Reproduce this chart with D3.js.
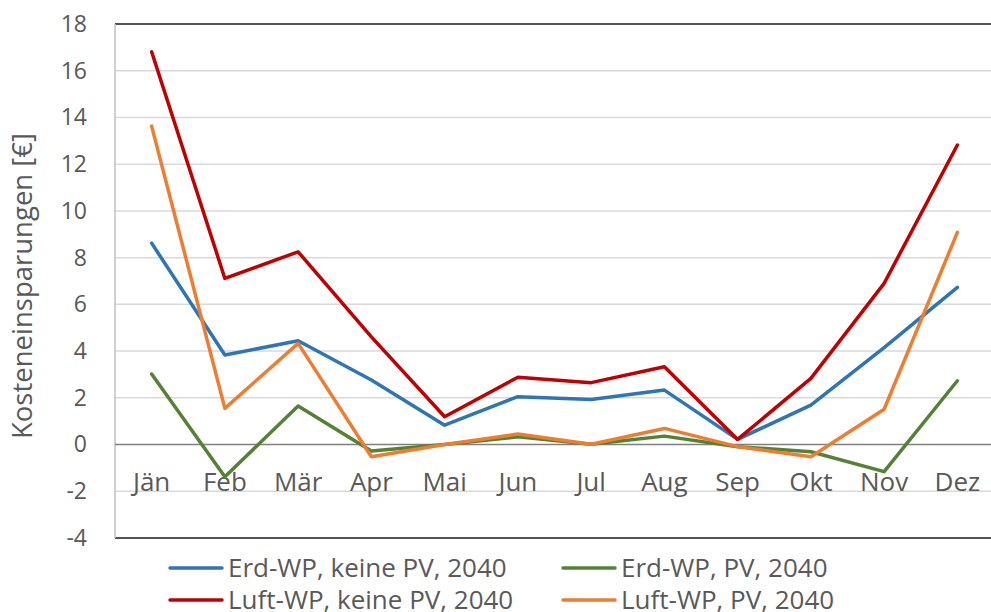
<!DOCTYPE html>
<html lang="de">
<head>
<meta charset="utf-8">
<script src="https://d3js.org/d3.v7.min.js"></script>
<title>Kosteneinsparungen 2040</title>
<style>
  body { margin: 0; background: #fff; }
  svg text { font-family: "Open Sans", "Noto Sans", sans-serif; fill: #595959; }
</style>
</head>
<body>
<svg width="991" height="612"></svg>
<script>
// months and series values (savings in EUR)
var months = ["Jän", "Feb", "Mär", "Apr", "Mai", "Jun", "Jul", "Aug", "Sep", "Okt", "Nov", "Dez"];
var erdKeinePV  = [8.62, 3.83, 4.44, 2.76, 0.83, 2.05, 1.93, 2.33, 0.22, 1.69, 4.15, 6.73];
var erdPV       = [3.02, -1.38, 1.65, -0.28, 0.0, 0.33, 0.01, 0.36, -0.09, -0.31, -1.16, 2.73];
var luftKeinePV = [16.81, 7.11, 8.25, 4.61, 1.19, 2.88, 2.65, 3.33, 0.22, 2.83, 6.9, 12.82];
var luftPV      = [13.63, 1.55, 4.33, -0.52, 0.0, 0.45, 0.01, 0.69, -0.09, -0.52, 1.51, 9.08];
var yTicks = [-4, -2, 0, 2, 4, 6, 8, 10, 12, 14, 16, 18];

var series = [
  {name: "Erd-WP, keine PV, 2040", values: erdKeinePV, color: "#2e75b6"},
  {name: "Erd-WP, PV, 2040", values: erdPV, color: "#548235"},
  {name: "Luft-WP, keine PV, 2040", values: luftKeinePV, color: "#c00000"},
  {name: "Luft-WP, PV, 2040", values: luftPV, color: "#ed7d31"}
];

var svg = d3.select("svg"),
    plotLeft = 115, plotRight = 994, plotTop = 24, plotBottom = 538;

var x = d3.scaleBand().domain(months).range([plotLeft, plotRight]);
var y = d3.scaleLinear().domain([-4, 18]).range([plotBottom, plotTop]);

// gridlines
svg.append("g")
  .selectAll("line")
  .data(yTicks.filter(function(d) { return d !== 0 && d !== -4 && d !== 18; }))
  .enter().append("line")
    .attr("x1", plotLeft).attr("x2", plotRight)
    .attr("y1", function(d) { return y(d); })
    .attr("y2", function(d) { return y(d); })
    .attr("stroke", "#d9d9d9")
    .attr("stroke-width", 1.5);

// frame: top and bottom dark, left gray
svg.append("line").attr("x1", plotLeft).attr("x2", plotRight).attr("y1", y(18)).attr("y2", y(18))
  .attr("stroke", "#1a1a1a").attr("stroke-width", 1.5);
svg.append("line").attr("x1", plotLeft).attr("x2", plotRight).attr("y1", y(-4)).attr("y2", y(-4))
  .attr("stroke", "#1a1a1a").attr("stroke-width", 1.5);
svg.append("line").attr("x1", plotLeft).attr("x2", plotLeft).attr("y1", y(18)).attr("y2", y(-4))
  .attr("stroke", "#bfbfbf").attr("stroke-width", 1.5);

// y axis labels (plain hyphen for negatives, like the original)
var yAxis = svg.append("g")
  .attr("transform", "translate(" + plotLeft + ",0)")
  .call(d3.axisLeft(y).tickValues(yTicks).tickFormat(function(d) { return String(d); })
    .tickSize(0).tickPadding(28));
yAxis.select(".domain").remove();
yAxis.selectAll("text").style("font-size", "23px").attr("fill", "#595959");

// zero line
svg.append("line").attr("x1", plotLeft).attr("x2", plotRight).attr("y1", y(0)).attr("y2", y(0))
  .attr("stroke", "#7f7f7f").attr("stroke-width", 1.5);

// x labels sit just below zero
var xAxis = svg.append("g")
  .attr("transform", "translate(0," + y(0) + ")")
  .call(d3.axisBottom(x).tickSize(0).tickPadding(28));
xAxis.select(".domain").remove();
xAxis.selectAll("text").style("font-size", "26px").attr("fill", "#595959");

// y axis title
svg.append("text")
  .attr("transform", "translate(22,286) rotate(-90)")
  .attr("text-anchor", "middle")
  .attr("dy", "0.35em")
  .style("font-size", "27.5px")
  .text("Kosteneinsparungen [€]");

var line = d3.line()
  .x(function(d, i) { return x(months[i]) + x.bandwidth() / 2; })
  .y(function(d) { return y(d); });

series.forEach(function(s) {
  svg.append("path")
    .datum(s.values)
    .attr("fill", "none")
    .attr("stroke", s.color)
    .attr("stroke-width", 3.5)
    .attr("stroke-linejoin", "round")
    .attr("stroke-linecap", "round")
    .attr("d", line);
});

// legend, two columns two rows
var legendPos = [[170, 568], [563, 568], [170, 600], [563, 600]];
var legend = svg.selectAll(".legend")
  .data(series)
  .enter().append("g")
    .attr("class", "legend")
    .attr("transform", function(d, i) { return "translate(" + legendPos[i][0] + "," + legendPos[i][1] + ")"; });

legend.append("line")
  .attr("x1", 0).attr("x2", 52)
  .attr("stroke", function(d) { return d.color; })
  .attr("stroke-width", 3.5)
  .attr("stroke-linecap", "round");

legend.append("text")
  .attr("x", 58)
  .attr("dy", "0.35em")
  .style("font-size", "26px")
  .text(function(d) { return d.name; });
</script>
</body>
</html>
